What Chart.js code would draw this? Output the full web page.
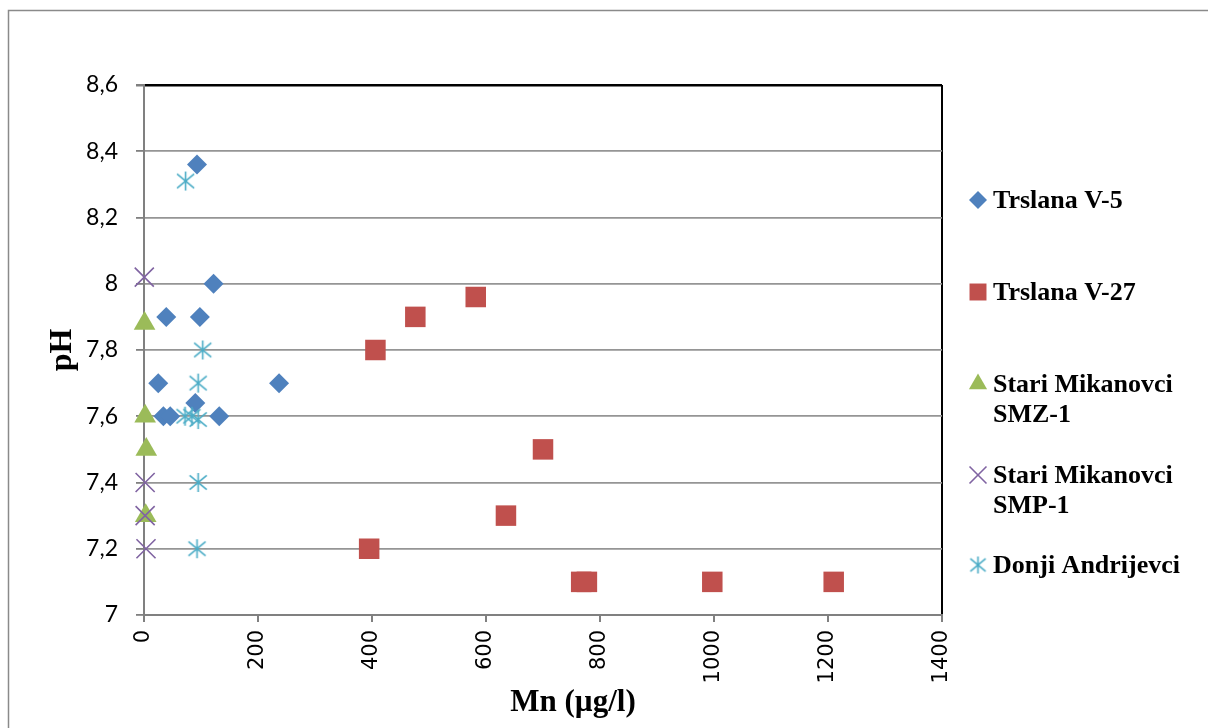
<!DOCTYPE html>
<html>
<head>
<meta charset="utf-8">
<script src="https://cdn.jsdelivr.net/npm/chart.js@4/dist/chart.umd.min.js"></script>
<style>
  body { margin: 0; background: #fff; }
  canvas { display: block; }
</style>
</head>
<body>
<canvas id="chart" width="1208" height="728"></canvas>
<script>
// Trslana V-5
var v5Mn = [93, 122, 39, 98, 25, 237, 90, 34, 46, 132];
var v5Ph = [8.36, 8.0, 7.9, 7.9, 7.7, 7.7, 7.64, 7.6, 7.6, 7.6];

// Trslana V-27
var v27Mn = [582, 476, 406, 700, 635, 395, 767, 777, 997, 1210];
var v27Ph = [7.96, 7.9, 7.8, 7.5, 7.3, 7.2, 7.1, 7.1, 7.1, 7.1];

// Stari Mikanovci SMZ-1
var smzMn = [1, 2, 4, 3];
var smzPh = [7.88, 7.6, 7.5, 7.3];

// Stari Mikanovci SMP-1
var smpMn = [0.5, 2, 2, 3.5];
var smpPh = [8.02, 7.4, 7.3, 7.2];

// Donji Andrijevci
var daMn = [73, 103, 95, 72, 84, 95, 95, 93];
var daPh = [8.31, 7.8, 7.7, 7.6, 7.6, 7.59, 7.4, 7.2];

var seriesNames = [['Trslana V-5'], ['Trslana V-27'], ['Stari Mikanovci', 'SMZ-1'], ['Stari Mikanovci', 'SMP-1'], ['Donji Andrijevci']];
var xTickLabels = ['0', '200', '400', '600', '800', '1000', '1200', '1400'];
var yTickLabels = ['7', '7,2', '7,4', '7,6', '7,8', '8', '8,2', '8,4', '8,6'];

function toPoints(xs, ys) {
    return xs.map(function (x, i) { return { x: x, y: ys[i] }; });
}

// Excel style asterisk (vertical bar + X)
function asterisk(size, color) {
    var c = document.createElement('canvas');
    c.width = size; c.height = size;
    var g = c.getContext('2d');
    var m = size / 2, r = size / 2 - 1;
    g.strokeStyle = color;
    g.lineWidth = 1.6;
    g.beginPath();
    g.moveTo(m, m - r); g.lineTo(m, m + r);
    g.moveTo(m - r * 0.9, m - r * 0.75); g.lineTo(m + r * 0.9, m + r * 0.75);
    g.moveTo(m - r * 0.9, m + r * 0.75); g.lineTo(m + r * 0.9, m - r * 0.75);
    g.stroke();
    return c;
}
var starImg = asterisk(21, '#4BACC6');
var starImgSmall = asterisk(19, '#4BACC6');

var datasets = [{
    label: seriesNames[0].join(' '),
    data: toPoints(v5Mn, v5Ph),
    pointStyle: 'rectRot', pointRadius: 10,
    backgroundColor: '#4F81BD', borderColor: '#4F81BD', borderWidth: 0,
    clip: false, order: 5
}, {
    label: seriesNames[1].join(' '),
    data: toPoints(v27Mn, v27Ph),
    pointStyle: 'rect', pointRadius: 14.5,
    backgroundColor: '#C0504D', borderColor: '#C0504D', borderWidth: 0,
    clip: false, order: 4
}, {
    label: seriesNames[2].join(' '),
    data: toPoints(smzMn, smzPh),
    pointStyle: 'triangle', pointRadius: 12.5,
    backgroundColor: '#9BBB59', borderColor: '#9BBB59', borderWidth: 0,
    clip: false, order: 3
}, {
    label: seriesNames[3].join(' '),
    data: toPoints(smpMn, smpPh),
    pointStyle: 'crossRot', pointRadius: 13.5,
    backgroundColor: '#8064A2', borderColor: '#8064A2', borderWidth: 1.6,
    clip: false, order: 2
}, {
    label: seriesNames[4].join(' '),
    data: toPoints(daMn, daPh),
    pointStyle: starImg, pointRadius: 10,
    backgroundColor: '#4BACC6', borderColor: '#4BACC6', borderWidth: 0,
    clip: false, order: 1
}];

var legendMarks = [
    { style: 'rectRot', radius: 9, lines: [200] },
    { style: 'rect', radius: 12, lines: [292] },
    { style: 'triangle', radius: 10.5, lines: [384, 414] },
    { style: 'crossRot', radius: 12, lines: [475, 505] },
    { style: starImgSmall, radius: 9, lines: [565] }
];

// Frame, x title and legend
var decor = {
    id: 'decor',
    beforeDraw: function (chart) {
        var ctx = chart.ctx;
        ctx.save();
        ctx.fillStyle = '#fff';
        ctx.fillRect(0, 0, chart.width, chart.height);
        ctx.strokeStyle = '#8a8a8a';
        ctx.lineWidth = 1.5;
        ctx.beginPath();
        ctx.moveTo(8.5, chart.height + 5);
        ctx.lineTo(8.5, 10.5);
        ctx.lineTo(chart.width + 5, 10.5);
        ctx.stroke();
        ctx.restore();
    },
    afterDraw: function (chart) {
        var ctx = chart.ctx;
        ctx.save();
        ctx.fillStyle = '#000';
        ctx.font = "bold 31px 'Liberation Serif'";
        ctx.textAlign = 'center';
        ctx.textBaseline = 'middle';
        ctx.fillText('Mn (\u00b5g/l)', 573, 703);

        ctx.font = "bold 26px 'Liberation Serif'";
        ctx.textAlign = 'left';
        legendMarks.forEach(function (m, i) {
            var ds = chart.data.datasets[i];
            ctx.fillStyle = ds.backgroundColor;
            ctx.strokeStyle = ds.borderColor;
            ctx.lineWidth = ds.borderWidth;
            if (Chart.helpers && Chart.helpers.drawPoint) {
                Chart.helpers.drawPoint(ctx, { pointStyle: m.style, rotation: 0, radius: m.radius, borderWidth: ds.borderWidth }, 978, m.lines[0]);
            }
            ctx.fillStyle = '#000';
            seriesNames[i].forEach(function (t, j) {
                ctx.fillText(t, 993, m.lines[j] + 1);
            });
        });
        ctx.restore();
    }
};

var ctx = document.getElementById('chart').getContext('2d');
var chart = new Chart(ctx, {
    type: 'scatter',
    data: { datasets: datasets },
    options: {
        responsive: false,
        animation: false,
        devicePixelRatio: 1,
        layout: { padding: { top: 85, right: 266, left: 0, bottom: 0 } },
        plugins: {
            legend: { display: false },
            tooltip: { enabled: false }
        },
        scales: {
            x: {
                type: 'linear',
                min: 0, max: 1400,
                afterFit: function (s) { s.height = 113; },
                ticks: {
                    stepSize: 200,
                    minRotation: 90, maxRotation: 90,
                    padding: 8,
                    color: '#000',
                    font: { family: 'DejaVu Sans', size: 21 },
                    callback: function (v, i) { return xTickLabels[i]; }
                },
                grid: {
                    color: function (c) { return c.tick && c.tick.value === 1400 ? '#000' : 'rgba(0,0,0,0)'; },
                    lineWidth: 2,
                    tickColor: '#808080',
                    tickLength: 7
                },
                border: { color: '#808080', width: 2 },
                title: { display: false }
            },
            y: {
                type: 'linear',
                min: 7, max: 8.6,
                afterFit: function (s) { s.width = 144; },
                ticks: {
                    stepSize: 0.2,
                    padding: 18,
                    color: '#000',
                    font: { family: 'Lato', size: 23 },
                    callback: function (v, i) { return yTickLabels[i]; }
                },
                grid: {
                    color: function (c) { return c.tick && Math.abs(c.tick.value - 8.6) < 1e-6 ? '#000' : '#959595'; },
                    lineWidth: function (c) { return c.tick && Math.abs(c.tick.value - 8.6) < 1e-6 ? 2.5 : 1.8; },
                    tickColor: '#808080',
                    tickLength: 8
                },
                border: { color: '#808080', width: 2 },
                title: {
                    display: true,
                    text: 'pH',
                    color: '#000',
                    font: { family: 'Liberation Serif', weight: 'bold', size: 32 },
                    padding: { top: 44, bottom: 0 }
                }
            }
        }
    },
    plugins: [decor]
});
</script>
</body>
</html>
